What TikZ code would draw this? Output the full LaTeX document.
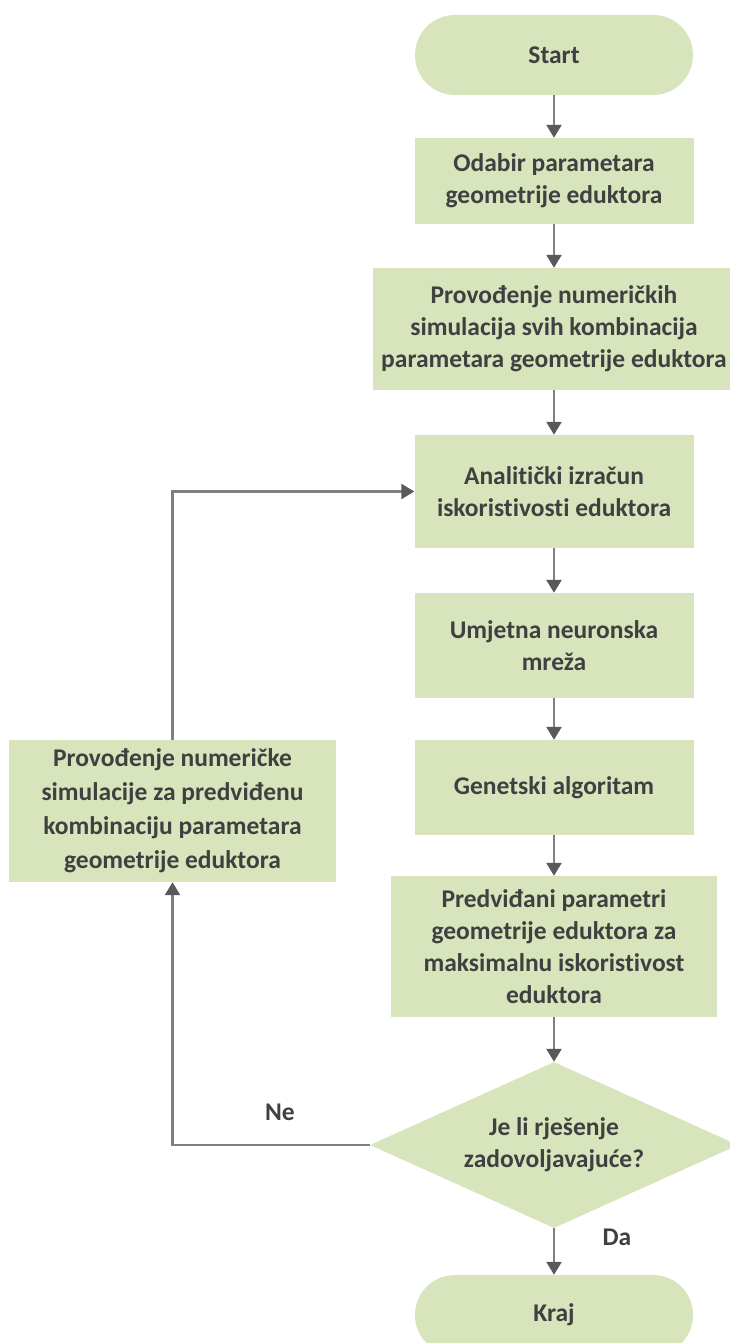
\documentclass[tikz,border=0pt]{standalone}
\usepackage{fontspec}
\setmainfont{Carlito}[Ligatures={NoCommon}]
\usetikzlibrary{arrows.meta,shapes.geometric}
\definecolor{boxfill}{HTML}{D8E4BC}
\definecolor{txt}{HTML}{404040}
\definecolor{linec}{HTML}{808080}
\definecolor{tipc}{HTML}{595959}
\tikzset{
  base/.style={fill=boxfill, draw=none, text=txt, align=center, inner sep=0pt,
    font=\fontsize{25.5}{32}\selectfont\bfseries},
  procbox/.style={base, rectangle},
  termbox/.style={base, rectangle, rounded corners=39.9pt, minimum width=278pt, minimum height=80pt},
  decbox/.style={base, diamond, aspect=2.217, minimum width=368pt, minimum height=166pt},
  flow/.style={draw=linec, line width=2.4pt, -{Triangle[width=15pt,length=13pt,color=tipc]}},
  lbl/.style={text=txt, font=\fontsize{25.5}{32}\selectfont\bfseries, inner sep=0pt}
}
\begin{document}
\begin{tikzpicture}[x=1pt,y=-1pt]
\useasboundingbox (0,0) rectangle (729,1343);
\node[termbox] (start) at (554,55) {Start};
\node[procbox, minimum width=279pt, minimum height=86pt] (b1) at (554,181) {Odabir parametara\\geometrije eduktora};
\node[procbox, minimum width=362pt, minimum height=122pt] (b2) at (554,329) {Provođenje numeričkih\\simulacija svih kombinacija\\parametara geometrije eduktora};
\node[procbox, minimum width=279pt, minimum height=113pt] (b3) at (554,491.5) {Analitički izračun\\iskoristivosti eduktora};
\node[procbox, minimum width=279pt, minimum height=105pt] (b4) at (554,645.5) {Umjetna neuronska\\mreža};
\node[procbox, minimum width=279pt, minimum height=95pt] (b5) at (554,787.5) {Genetski algoritam};
\node[procbox, minimum width=326pt, minimum height=141pt] (b6) at (554,946.5) {Predviđani parametri\\geometrije eduktora za\\maksimalnu iskoristivost\\eduktora};
\node[decbox] (dec) at (554,1145) {Je li rješenje\\zadovoljavajuće?};
\node[termbox] (kraj) at (554,1315) {Kraj};
\node[procbox, minimum width=327pt, minimum height=142pt, font=\fontsize{25.5}{34}\selectfont\bfseries] (left) at (172.5,811) {Provođenje numeričke\\simulacije za predviđenu\\kombinaciju parametara\\geometrije eduktora};

\draw[flow] (start) -- (b1);
\draw[flow] (b1) -- (b2);
\draw[flow] (b2) -- (b3);
\draw[flow] (b3) -- (b4);
\draw[flow] (b4) -- (b5);
\draw[flow] (b5) -- (b6);
\draw[flow] (b6) -- (dec);
\draw[flow] (dec) -- (kraj);
\draw[flow] (dec.west) -| (left.south);
\draw[flow] (left.north) |- (b3.west);

\node[lbl] (ne) at (280,1112) {Ne};
\node[lbl] (da) at (617,1237) {Da};
\end{tikzpicture}
\end{document}
